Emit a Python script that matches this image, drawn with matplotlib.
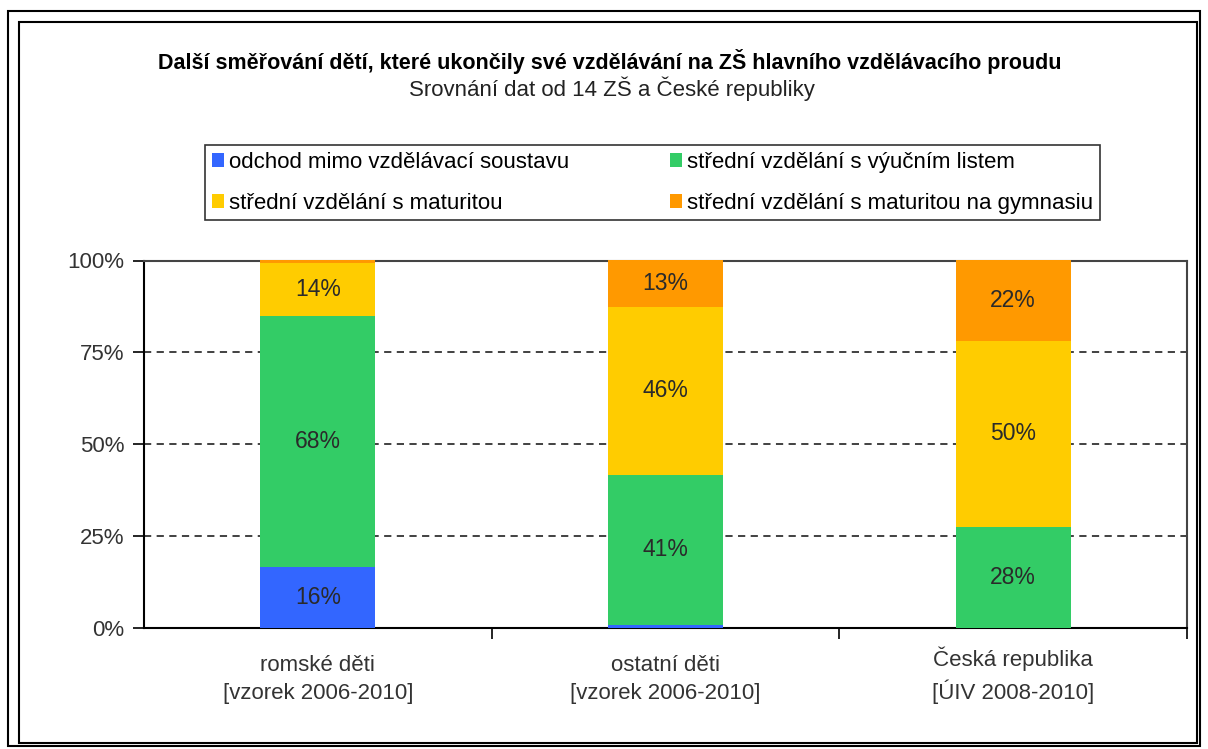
import matplotlib
matplotlib.use("Agg")
import matplotlib.pyplot as plt
from matplotlib.patches import Patch, Rectangle
import numpy as np

# category labels and stacked shares (percent)
categories = ["romské děti\n[vzorek 2006-2010]",
              "ostatní děti\n[vzorek 2006-2010]",
              "Česká republika\n[ÚIV 2008-2010]"]
series_names = ["odchod mimo vzdělávací soustavu",
                "střední vzdělání s výučním listem",
                "střední vzdělání s maturitou",
                "střední vzdělání s maturitou na gymnasiu"]
odchod = [16.5, 0.8, 0.0]
vyucni = [68.4, 40.9, 27.6]
maturita = [14.4, 45.7, 50.4]
gymnasium = [0.7, 12.6, 22.0]
y_ticks = [0, 25, 50, 75, 100]

colors = ["#3366FF", "#33CC66", "#FFCC00", "#FF9900"]
FONT = ["Liberation Sans", "DejaVu Sans"]
plt.rcParams["font.family"] = FONT

W, H = 1208, 749
fig = plt.figure(figsize=(W / 100, H / 100), dpi=100)
fig.patch.set_facecolor("white")

# double frame round the chart
for (x0, y0, x1, y1) in [(8, 11, 1200, 746), (19, 22, 1197, 743)]:
    fig.patches.append(Rectangle((x0 / W, 1 - y1 / H), (x1 - x0) / W, (y1 - y0) / H,
                                 transform=fig.transFigure, fill=False,
                                 edgecolor="black", linewidth=1.5))

ax = fig.add_axes([144 / W, 1 - 628 / H, (1187 - 144) / W, (628 - 260.5) / H])

x = np.arange(len(categories))
width = 0.33
series = [odchod, vyucni, maturita, gymnasium]
bottom = np.zeros(len(categories))
for vals, col in zip(series, colors):
    vals = np.array(vals)
    ax.bar(x, vals, width, bottom=bottom, color=col, zorder=3)
    for xi, b, v in zip(x, bottom, vals):
        if v >= 3:
            ax.text(xi, b + v / 2, f"{v:.0f}%", ha="center", va="center",
                    fontsize=16.5, color="#2a2a2a", zorder=4)
    bottom += vals

ax.set_xlim(-0.5, len(categories) - 0.5)
ax.set_ylim(0, 100)
ax.set_yticks(y_ticks)
ax.set_yticklabels([f"{t}%" for t in y_ticks], fontsize=16, color="#333333")
ax.tick_params(axis="y", direction="out", length=8, width=1.2, pad=6)

ax.set_xticks(x)
ax.set_xticklabels(categories, fontsize=16, color="#333333", linespacing=1.45,
                   va="baseline")
ax.set_xticks(np.arange(len(categories)) + 0.5, minor=True)
ax.tick_params(axis="x", which="major", length=0, pad=51)
ax.tick_params(axis="x", which="minor", direction="out", length=8, width=1.2)

for t in y_ticks[1:-1]:
    ax.axhline(t, color="#333333", linestyle=(0, (4, 3)), linewidth=1.3, zorder=1)

for side in ["left", "bottom"]:
    ax.spines[side].set_linewidth(1.5)
    ax.spines[side].set_color("black")
for side in ["top", "right"]:
    ax.spines[side].set_linewidth(1.5)
    ax.spines[side].set_color("#444444")

fig.text(610 / W, 1 - 62 / H,
         "Další směřování dětí, které ukončily své vzdělávání na ZŠ hlavního vzdělávacího proudu",
         ha="center", va="center", fontsize=15.5, fontweight="bold")
fig.text(612 / W, 1 - 89 / H, "Srovnání dat od 14 ZŠ a České republiky",
         ha="center", va="center", fontsize=16, color="#222222")

# legend order: column-wise so rows read blue/green, yellow/orange
order = [0, 2, 1, 3]
handles = [Patch(facecolor=colors[i], edgecolor="none") for i in order]
labels = [series_names[i] for i in order]
leg = fig.legend(handles, labels, ncol=2, loc="upper left",
                 bbox_to_anchor=(205 / W, 1 - 145 / H), frameon=True, fancybox=False,
                 fontsize=16, handlelength=0.55, handleheight=0.55, handletextpad=0.25,
                 columnspacing=4.5, borderpad=0.3, labelspacing=0.9, borderaxespad=0)
leg.get_frame().set_edgecolor("black")
leg.get_frame().set_linewidth(1.2)

fig.savefig("out.png", dpi=100)
